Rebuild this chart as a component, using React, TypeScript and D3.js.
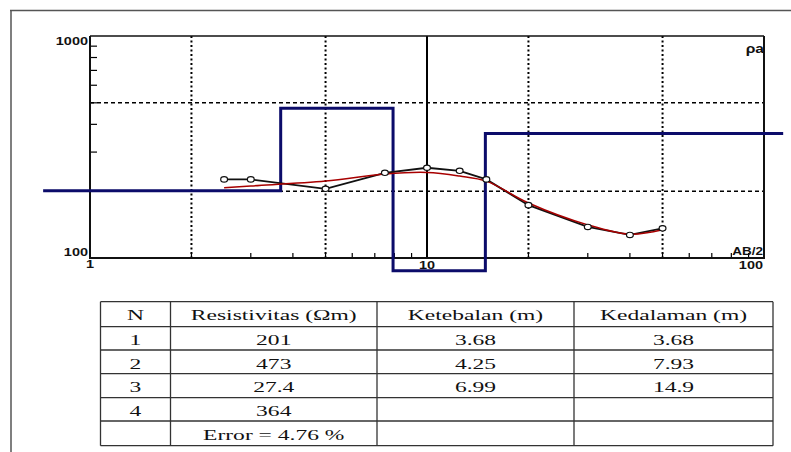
import React from "react";
import * as d3 from "d3";

// ---- Data ----
const abHalf = [2.5, 3, 5, 7.5, 10, 12.5, 15, 20, 30, 40, 50];
const rhoObserved = [226, 226, 205, 242, 255, 247, 226, 173, 138, 127, 136];
const rhoCalculated = [207, 211, 222, 239, 243, 234, 222, 177, 141, 128, 134];

const layerNo = ["1", "2", "3", "4"];
const layerRho = [201, 473, 27.4, 364];
const layerThick = [3.68, 4.25, 6.99];
const layerDepth = [3.68, 7.93, 14.9];
const errorText = "Error = 4.76 %";
const headers = ["N", "Resistivitas (\u03A9m)", "Ketebalan (m)", "Kedalaman (m)"];

const xGrid = [2, 5, 20, 50];
const yGrid = [200, 500];
const xMinorTicks = [2, 3, 4, 5, 6, 7, 8, 9, 20, 30, 40, 50, 60, 70, 80, 90];
const yMinorTicks = [200, 300, 400, 500, 600, 700, 800, 900];
// display window of the model line in the original software
const modelXRange = [0.726, 114];
const modelRhoFloor = 87.5;

const W = 791;
const H = 452;
const SX = 1.57;
const SANS = "'Liberation Sans', Arial, Helvetica, sans-serif";
const SERIF = "'Liberation Serif', 'Times New Roman', 'DejaVu Serif', serif";

function SText({ x, y, children, anchor = "start", size = 10, family = SANS, weight = "normal", fill = "#111", sx = SX }: any) {
  return (
    <text
      transform={`translate(${x},${y}) scale(${sx},1)`}
      textAnchor={anchor}
      style={{ fontFamily: family, fontSize: size, fontWeight: weight }}
      fill={fill}
    >
      {children}
    </text>
  );
}

export default function App() {
  const x = d3.scaleLog().domain([1, 100]).range([90, 764]);
  const y = d3.scaleLog().domain([100, 1000]).range([258, 36]);
  const yModel = (v: number) => y(Math.max(v, modelRhoFloor));

  // model step line
  const pts: [number, number][] = [];
  pts.push([x(modelXRange[0]), yModel(layerRho[0])]);
  layerDepth.forEach((d, i) => {
    pts.push([x(d), yModel(layerRho[i])]);
    pts.push([x(d), yModel(layerRho[i + 1])]);
  });
  pts.push([x(modelXRange[1]), yModel(layerRho[layerRho.length - 1])]);
  const modelPath = d3.line()(pts) || "";

  const obsLine = d3
    .line<number>()
    .x((_, i) => x(abHalf[i]))
    .y((d) => y(d))(rhoObserved) || "";
  const calLine = d3
    .line<number>()
    .x((_, i) => x(abHalf[i]))
    .y((d) => y(d))
    .curve(d3.curveCatmullRom)(rhoCalculated) || "";

  // table
  const colX = [100.5, 170.5, 377, 574, 773];
  const rowY = [301.7, 326.7, 350, 373.7, 397.7, 421, 445.7];
  const baseY = [320, 345, 368.5, 392, 416, 440];
  const cx = (c: number) => (colX[c] + colX[c + 1]) / 2;

  const rows: string[][] = layerNo.map((n, i) => [
    n,
    String(layerRho[i]),
    i < layerThick.length ? layerThick[i].toFixed(2) : "",
    i < layerDepth.length ? String(layerDepth[i]) : "",
  ]);
  rows.push(["", errorText, "", ""]);

  return (
    <svg width={W} height={H} style={{ position: "absolute", left: 0, top: 0, display: "block", background: "#fff" }}>
      {/* outer frame */}
      <line x1={10} y1={10.5} x2={W} y2={10.5} stroke="#555" strokeWidth={1.5} />
      <line x1={11} y1={10} x2={11} y2={H} stroke="#555" strokeWidth={1.5} />

      {/* grid */}
      {xGrid.map((g) => (
        <line key={"xg" + g} x1={x(g)} x2={x(g)} y1={36} y2={258} stroke="#000" strokeWidth={2} strokeDasharray="2,2.5" />
      ))}
      {yGrid.map((g) => (
        <line key={"yg" + g} x1={90} x2={764} y1={y(g)} y2={y(g)} stroke="#000" strokeWidth={1.5} strokeDasharray="4,3" />
      ))}
      <line x1={x(10)} x2={x(10)} y1={36} y2={258} stroke="#000" strokeWidth={2} />

      {/* ticks */}
      {xMinorTicks.map((t) => (
        <line key={"xt" + t} x1={x(t)} x2={x(t)} y1={258} y2={253} stroke="#000" strokeWidth={1.2} />
      ))}
      {yMinorTicks.map((t) => (
        <line key={"yt" + t} x1={90} x2={97} y1={y(t)} y2={y(t)} stroke="#000" strokeWidth={1.2} />
      ))}

      {/* plot frame */}
      <line x1={90} x2={764} y1={36} y2={36} stroke="#111" strokeWidth={1.5} />
      <line x1={764} x2={764} y1={36} y2={259} stroke="#111" strokeWidth={2} />
      <line x1={90} x2={90} y1={36} y2={259} stroke="#111" strokeWidth={2} />
      <line x1={89} x2={765} y1={258} y2={258} stroke="#111" strokeWidth={2} />

      {/* model */}
      <path d={modelPath} fill="none" stroke="#0c0c6a" strokeWidth={3} strokeLinejoin="miter" />

      {/* observed & calculated */}
      <path d={obsLine} fill="none" stroke="#111" strokeWidth={1.8} />
      <path d={calLine} fill="none" stroke="#a80000" strokeWidth={1.5} />
      {abHalf.map((a, i) => (
        <ellipse key={"p" + i} cx={x(a)} cy={y(rhoObserved[i])} rx={3.4} ry={2.7} fill="#fff" stroke="#111" strokeWidth={1.2} />
      ))}

      {/* axis labels */}
      <SText x={88} y={45} anchor="end" weight="bold" sx={1.45}>1000</SText>
      <SText x={88} y={256} anchor="end" weight="bold" sx={1.45}>100</SText>
      <SText x={90} y={268} anchor="middle" weight="bold" sx={1.45}>1</SText>
      <SText x={x(10)} y={269} anchor="middle" weight="bold" sx={1.45}>10</SText>
      <SText x={763} y={269} anchor="end" weight="bold" sx={1.45}>100</SText>
      <SText x={763} y={255} anchor="end" weight="bold" sx={1.35}>AB/2</SText>
      <SText x={764} y={53} anchor="end" weight="bold" size={12} sx={1.3}>{"\u03C1a"}</SText>

      {/* table */}
      {rowY.map((ry, i) => (
        <line key={"tr" + i} x1={colX[0]} x2={colX[4]} y1={ry} y2={ry} stroke="#333" strokeWidth={1.3} />
      ))}
      {colX.map((c, i) => (
        <line key={"tc" + i} x1={c} x2={c} y1={rowY[0]} y2={rowY[rowY.length - 1]} stroke="#333" strokeWidth={1.3} />
      ))}
      {headers.map((h, c) => (
        <SText key={"h" + c} x={cx(c)} y={baseY[0]} anchor="middle" size={15} family={SERIF}>{h}</SText>
      ))}
      {rows.map((r, ri) =>
        r.map((v, c) =>
          v ? (
            <SText key={`c${ri}-${c}`} x={cx(c)} y={baseY[ri + 1]} anchor="middle" size={15} family={SERIF}>{v}</SText>
          ) : null
        )
      )}
    </svg>
  );
}
